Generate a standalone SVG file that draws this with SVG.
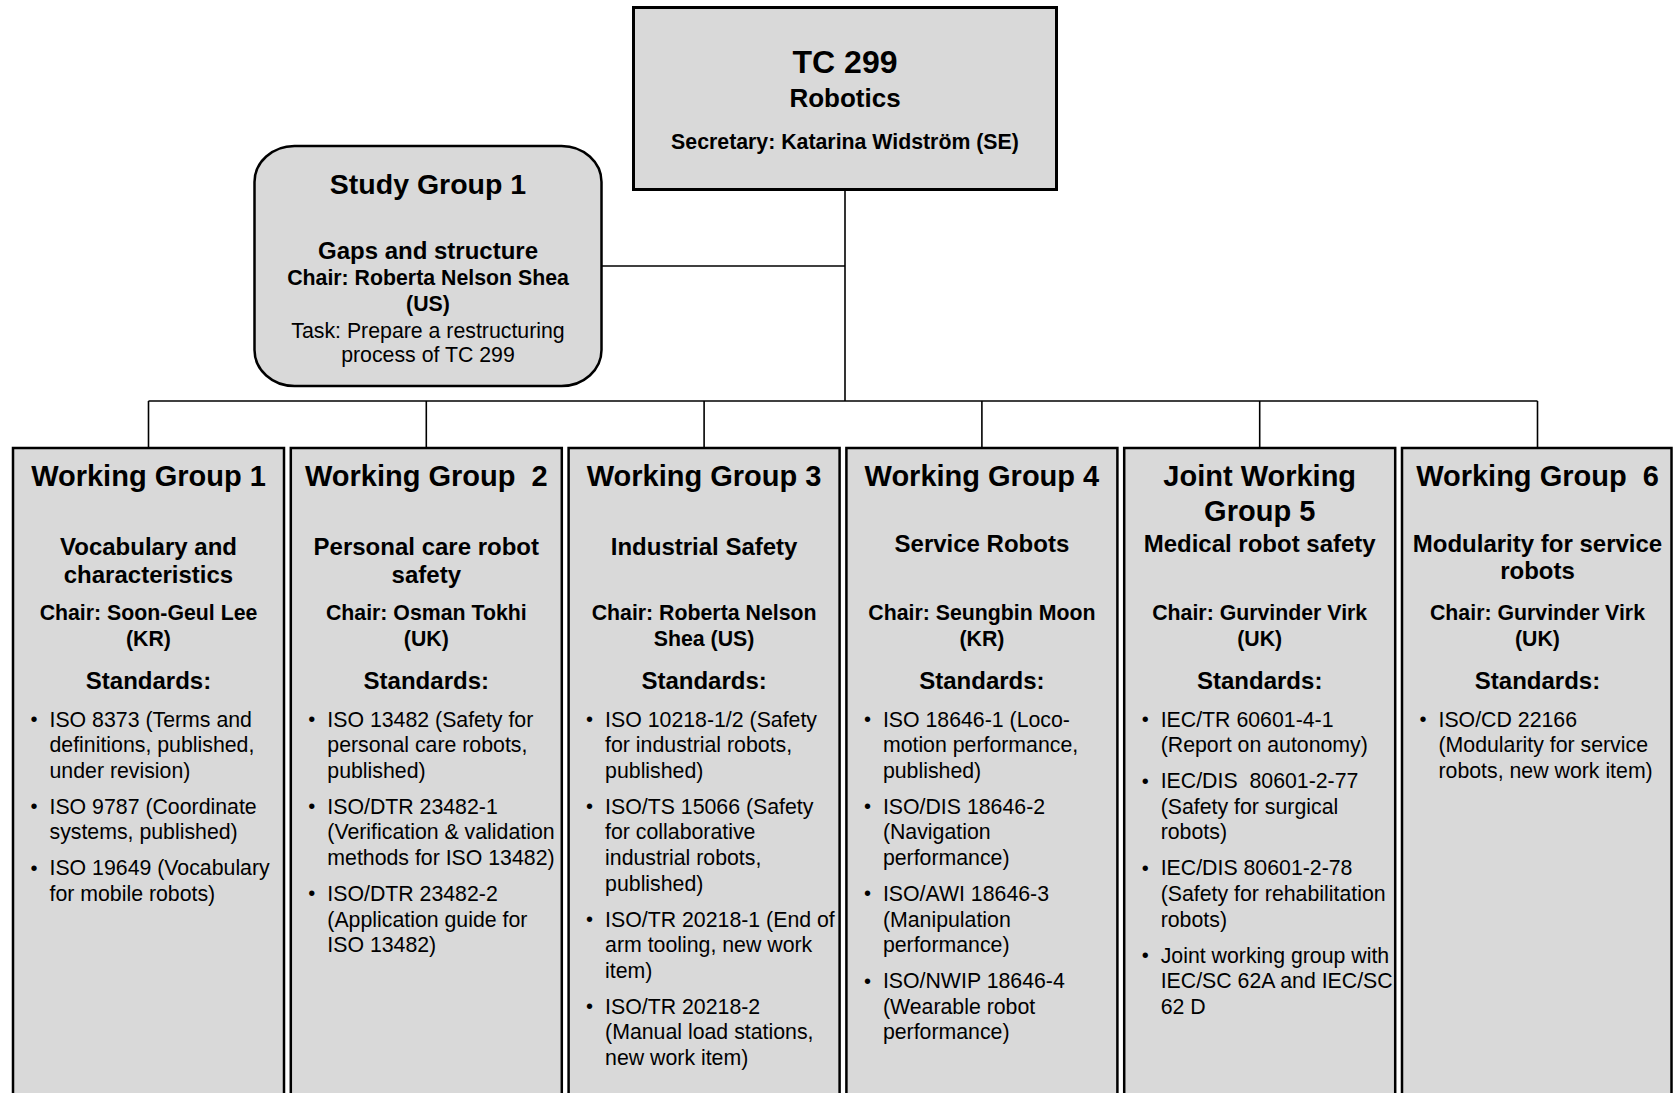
<svg xmlns="http://www.w3.org/2000/svg" width="1673" height="1093" viewBox="0 0 1673 1093">
<style>
.box{fill:#d9d9d9;stroke:#000;stroke-width:2.5}
.con{fill:none;stroke:#000;stroke-width:1.6}
text{font-family:"Liberation Sans",Arial,sans-serif;fill:#000;white-space:pre}
.c{text-anchor:middle}
.h1{font-size:32px;font-weight:bold}
.h2{font-size:26px;font-weight:bold}
.wt{font-size:29px;font-weight:bold}
.st{font-size:24px;font-weight:bold}
.ch{font-size:21.3px;font-weight:bold}
.tx{font-size:21.3px}
.bu{font-size:20px}
</style>
<rect width="1673" height="1093" fill="#fff"/>
<g id="connectors">
<line class="con" x1="845" y1="190" x2="845" y2="401"/>
<line class="con" x1="602" y1="266" x2="845" y2="266"/>
<line class="con" x1="148.5" y1="401" x2="1537.5" y2="401"/>
<line class="con" x1="148.5" y1="401" x2="148.5" y2="448"/>
<line class="con" x1="426.3" y1="401" x2="426.3" y2="448"/>
<line class="con" x1="704.1" y1="401" x2="704.1" y2="448"/>
<line class="con" x1="981.9" y1="401" x2="981.9" y2="448"/>
<line class="con" x1="1259.7" y1="401" x2="1259.7" y2="448"/>
<line class="con" x1="1537.5" y1="401" x2="1537.5" y2="448"/>
</g>
<g id="tc299">
<rect class="box" x="633.5" y="7.5" width="423" height="182" style="stroke-width:3"/>
<text class="c h1" x="845" y="73">TC 299</text>
<text class="c h2" x="845" y="106.5">Robotics</text>
<text class="c ch" x="845" y="149">Secretary: Katarina Widström (SE)</text>
</g>
<g id="sg1">
<rect class="box" x="254.5" y="146" width="347" height="240" rx="40" ry="36"/>
<text class="c wt" x="428" y="193.5" style="font-size:28.5px">Study Group 1</text>
<text class="c st" x="428" y="259">Gaps and structure</text>
<text class="c ch" x="428" y="285">Chair: Roberta Nelson Shea</text>
<text class="c ch" x="428" y="310.5">(US)</text>
<text class="c tx" x="428" y="337.5">Task: Prepare a restructuring</text>
<text class="c tx" x="428" y="362">process of TC 299</text>
</g>
<g id="wg1">
<rect class="box" x="13" y="448" width="271" height="660"/>
<text class="c wt" x="148.5" y="485.5">Working Group 1</text>
<text class="c st" x="148.5" y="554.5">Vocabulary and</text>
<text class="c st" x="148.5" y="583">characteristics</text>
<text class="c ch" x="148.5" y="619.5">Chair: Soon-Geul Lee</text>
<text class="c ch" x="148.5" y="645.5">(KR)</text>
<text class="c st" x="148.5" y="688.7">Standards:</text>
<text class="bu" x="30.5" y="726">•</text>
<text class="tx" x="49.5" y="726.5">ISO 8373 (Terms and</text>
<text class="tx" x="49.5" y="752.1">definitions, published,</text>
<text class="tx" x="49.5" y="777.7">under revision)</text>
<text class="bu" x="30.5" y="813.2">•</text>
<text class="tx" x="49.5" y="813.7">ISO 9787 (Coordinate</text>
<text class="tx" x="49.5" y="839.3">systems, published)</text>
<text class="bu" x="30.5" y="874.8">•</text>
<text class="tx" x="49.5" y="875.3">ISO 19649 (Vocabulary</text>
<text class="tx" x="49.5" y="900.9">for mobile robots)</text>
</g>
<g id="wg2">
<rect class="box" x="290.8" y="448" width="271" height="660"/>
<text class="c wt" x="426.3" y="485.5">Working Group  2</text>
<text class="c st" x="426.3" y="554.5">Personal care robot</text>
<text class="c st" x="426.3" y="583">safety</text>
<text class="c ch" x="426.3" y="619.5">Chair: Osman Tokhi</text>
<text class="c ch" x="426.3" y="645.5">(UK)</text>
<text class="c st" x="426.3" y="688.7">Standards:</text>
<text class="bu" x="308.3" y="726">•</text>
<text class="tx" x="327.3" y="726.5">ISO 13482 (Safety for</text>
<text class="tx" x="327.3" y="752.1">personal care robots,</text>
<text class="tx" x="327.3" y="777.7">published)</text>
<text class="bu" x="308.3" y="813.2">•</text>
<text class="tx" x="327.3" y="813.7">ISO/DTR 23482-1</text>
<text class="tx" x="327.3" y="839.3">(Verification &amp; validation</text>
<text class="tx" x="327.3" y="864.9">methods for ISO 13482)</text>
<text class="bu" x="308.3" y="900.4">•</text>
<text class="tx" x="327.3" y="900.9">ISO/DTR 23482-2</text>
<text class="tx" x="327.3" y="926.5">(Application guide for</text>
<text class="tx" x="327.3" y="952.1">ISO 13482)</text>
</g>
<g id="wg3">
<rect class="box" x="568.6" y="448" width="271" height="660"/>
<text class="c wt" x="704.1" y="485.5">Working Group 3</text>
<text class="c st" x="704.1" y="554.5">Industrial Safety</text>
<text class="c ch" x="704.1" y="619.5">Chair: Roberta Nelson</text>
<text class="c ch" x="704.1" y="645.5">Shea (US)</text>
<text class="c st" x="704.1" y="688.7">Standards:</text>
<text class="bu" x="586.1" y="726">•</text>
<text class="tx" x="605.1" y="726.5">ISO 10218-1/2 (Safety</text>
<text class="tx" x="605.1" y="752.1">for industrial robots,</text>
<text class="tx" x="605.1" y="777.7">published)</text>
<text class="bu" x="586.1" y="813.2">•</text>
<text class="tx" x="605.1" y="813.7">ISO/TS 15066 (Safety</text>
<text class="tx" x="605.1" y="839.3">for collaborative</text>
<text class="tx" x="605.1" y="864.9">industrial robots,</text>
<text class="tx" x="605.1" y="890.5">published)</text>
<text class="bu" x="586.1" y="926">•</text>
<text class="tx" x="605.1" y="926.5">ISO/TR 20218-1 (End of</text>
<text class="tx" x="605.1" y="952.1">arm tooling, new work</text>
<text class="tx" x="605.1" y="977.7">item)</text>
<text class="bu" x="586.1" y="1013.2">•</text>
<text class="tx" x="605.1" y="1013.7">ISO/TR 20218-2</text>
<text class="tx" x="605.1" y="1039.3">(Manual load stations,</text>
<text class="tx" x="605.1" y="1064.9">new work item)</text>
</g>
<g id="wg4">
<rect class="box" x="846.4" y="448" width="271" height="660"/>
<text class="c wt" x="981.9" y="485.5">Working Group 4</text>
<text class="c st" x="981.9" y="551.5">Service Robots</text>
<text class="c ch" x="981.9" y="619.5">Chair: Seungbin Moon</text>
<text class="c ch" x="981.9" y="645.5">(KR)</text>
<text class="c st" x="981.9" y="688.7">Standards:</text>
<text class="bu" x="863.9" y="726">•</text>
<text class="tx" x="882.9" y="726.5">ISO 18646-1 (Loco-</text>
<text class="tx" x="882.9" y="752.1">motion performance,</text>
<text class="tx" x="882.9" y="777.7">published)</text>
<text class="bu" x="863.9" y="813.2">•</text>
<text class="tx" x="882.9" y="813.7">ISO/DIS 18646-2</text>
<text class="tx" x="882.9" y="839.3">(Navigation</text>
<text class="tx" x="882.9" y="864.9">performance)</text>
<text class="bu" x="863.9" y="900.4">•</text>
<text class="tx" x="882.9" y="900.9">ISO/AWI 18646-3</text>
<text class="tx" x="882.9" y="926.5">(Manipulation</text>
<text class="tx" x="882.9" y="952.1">performance)</text>
<text class="bu" x="863.9" y="987.6">•</text>
<text class="tx" x="882.9" y="988.1">ISO/NWIP 18646-4</text>
<text class="tx" x="882.9" y="1013.7">(Wearable robot</text>
<text class="tx" x="882.9" y="1039.3">performance)</text>
</g>
<g id="jwg5">
<rect class="box" x="1124.2" y="448" width="271" height="660"/>
<text class="c wt" x="1259.7" y="485.5">Joint Working</text>
<text class="c wt" x="1259.7" y="520.5">Group 5</text>
<text class="c st" x="1259.7" y="551.5">Medical robot safety</text>
<text class="c ch" x="1259.7" y="619.5">Chair: Gurvinder Virk</text>
<text class="c ch" x="1259.7" y="645.5">(UK)</text>
<text class="c st" x="1259.7" y="688.7">Standards:</text>
<text class="bu" x="1141.7" y="726">•</text>
<text class="tx" x="1160.7" y="726.5">IEC/TR 60601-4-1</text>
<text class="tx" x="1160.7" y="752.1">(Report on autonomy)</text>
<text class="bu" x="1141.7" y="787.6">•</text>
<text class="tx" x="1160.7" y="788.1">IEC/DIS  80601-2-77</text>
<text class="tx" x="1160.7" y="813.7">(Safety for surgical</text>
<text class="tx" x="1160.7" y="839.3">robots)</text>
<text class="bu" x="1141.7" y="874.8">•</text>
<text class="tx" x="1160.7" y="875.3">IEC/DIS 80601-2-78</text>
<text class="tx" x="1160.7" y="900.9">(Safety for rehabilitation</text>
<text class="tx" x="1160.7" y="926.5">robots)</text>
<text class="bu" x="1141.7" y="962">•</text>
<text class="tx" x="1160.7" y="962.5">Joint working group with</text>
<text class="tx" x="1160.7" y="988.1">IEC/SC 62A and IEC/SC</text>
<text class="tx" x="1160.7" y="1013.7">62 D</text>
</g>
<g id="wg6">
<rect class="box" x="1402" y="448" width="269.5" height="660"/>
<text class="c wt" x="1537.5" y="485.5">Working Group  6</text>
<text class="c st" x="1537.5" y="551.5">Modularity for service</text>
<text class="c st" x="1537.5" y="579">robots</text>
<text class="c ch" x="1537.5" y="619.5">Chair: Gurvinder Virk</text>
<text class="c ch" x="1537.5" y="645.5">(UK)</text>
<text class="c st" x="1537.5" y="688.7">Standards:</text>
<text class="bu" x="1419.5" y="726">•</text>
<text class="tx" x="1438.5" y="726.5">ISO/CD 22166</text>
<text class="tx" x="1438.5" y="752.1">(Modularity for service</text>
<text class="tx" x="1438.5" y="777.7">robots, new work item)</text>
</g>
</svg>
